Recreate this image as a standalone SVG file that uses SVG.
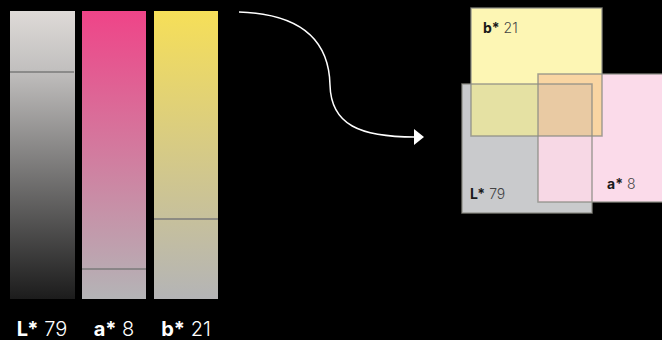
<svg xmlns="http://www.w3.org/2000/svg" width="662" height="340" viewBox="0 0 662 340">
<defs>
<linearGradient id="gL" x1="0" y1="0" x2="0" y2="1"><stop offset="0" stop-color="#dedad7"/><stop offset="0.2" stop-color="#c2c0bf"/><stop offset="1" stop-color="#1c1c1c"/></linearGradient>
<linearGradient id="gA" x1="0" y1="0" x2="0" y2="1"><stop offset="0" stop-color="#ef4488"/><stop offset="1" stop-color="#b4b4b6"/></linearGradient>
<linearGradient id="gB" x1="0" y1="0" x2="0" y2="1"><stop offset="0" stop-color="#f6df58"/><stop offset="1" stop-color="#b4b4b6"/></linearGradient>
<marker id="ah" viewBox="0 0 10 16" refX="1" refY="8" markerWidth="10" markerHeight="16" markerUnits="userSpaceOnUse" orient="auto"><path d="M0,0 L10,8 L0,16 Z" fill="#ffffff"/></marker>
</defs>
<style>
.bar-line{stroke:#7a7a7a;stroke-width:1.6}
.lbl{font-family:Inter,"Liberation Sans",sans-serif;font-size:20px;fill:#ffffff}
.b{font-weight:700}
.n{font-weight:300}
.sq{stroke:#8c8c84;stroke-width:1.5;stroke-opacity:0.8}
.sl{font-family:Inter,"Liberation Sans",sans-serif;font-size:14px}
.sb{font-weight:700;fill:#1a1a1a}
.sn{font-weight:300;fill:#444444}
</style>
<rect width="662" height="340" fill="#000000"/>
<g id="bar-L">
<rect x="10" y="11" width="65" height="288" fill="url(#gL)"/>
<line class="bar-line" x1="10" y1="72" x2="74" y2="72"/>
<text class="lbl" x="42" y="336" text-anchor="middle"><tspan class="b">L*</tspan><tspan class="n"> 79</tspan></text>
</g>
<g id="bar-a">
<rect x="82" y="11" width="64" height="288" fill="url(#gA)"/>
<line class="bar-line" x1="82" y1="269" x2="146" y2="269"/>
<text class="lbl" x="114" y="336" text-anchor="middle"><tspan class="b">a*</tspan><tspan class="n"> 8</tspan></text>
</g>
<g id="bar-b">
<rect x="154" y="11" width="64" height="288" fill="url(#gB)"/>
<line class="bar-line" x1="154" y1="219" x2="218" y2="219"/>
<text class="lbl" x="186" y="336" text-anchor="middle"><tspan class="b">b*</tspan><tspan class="n"> 21</tspan></text>
</g>
<g id="connectors">
<path d="M239,12 C300,14 329,40 330,85 C331,125 360,137 415,137" fill="none" stroke="#ffffff" stroke-width="1.5" marker-end="url(#ah)"/>
</g>
<g id="square-L">
<rect x="462" y="84" width="130" height="129" fill="#c9cacc"/>
</g>
<g id="square-a">
<rect x="538" y="74" width="130" height="128" fill="#fbdbea"/>
</g>
<g id="square-b">
<rect x="471" y="8" width="131" height="128" fill="#fdf6b4"/>
</g>
<g id="overlaps">
<rect x="471" y="84" width="67" height="52" fill="#e5e1a3"/>
<rect x="538" y="74" width="64" height="10" fill="#f9d5a2"/>
<rect x="592" y="84" width="10" height="52" fill="#f9d5a2"/>
<rect x="538" y="84" width="54" height="52" fill="#e9caa3"/>
<rect x="538" y="136" width="54" height="66" fill="#f7d8e5"/>
</g>
<g id="square-borders">
<rect class="sq" x="462" y="84" width="130" height="129" fill="none"/>
<rect class="sq" x="538" y="74" width="130" height="128" fill="none"/>
<rect class="sq" x="471" y="8" width="131" height="128" fill="none"/>
<text class="sl" x="483" y="33"><tspan class="sb">b*</tspan><tspan class="sn"> 21</tspan></text>
<text class="sl" x="470" y="199"><tspan class="sb">L*</tspan><tspan class="sn"> 79</tspan></text>
<text class="sl" x="607" y="189"><tspan class="sb">a*</tspan><tspan class="sn"> 8</tspan></text>
</g>
</svg>
